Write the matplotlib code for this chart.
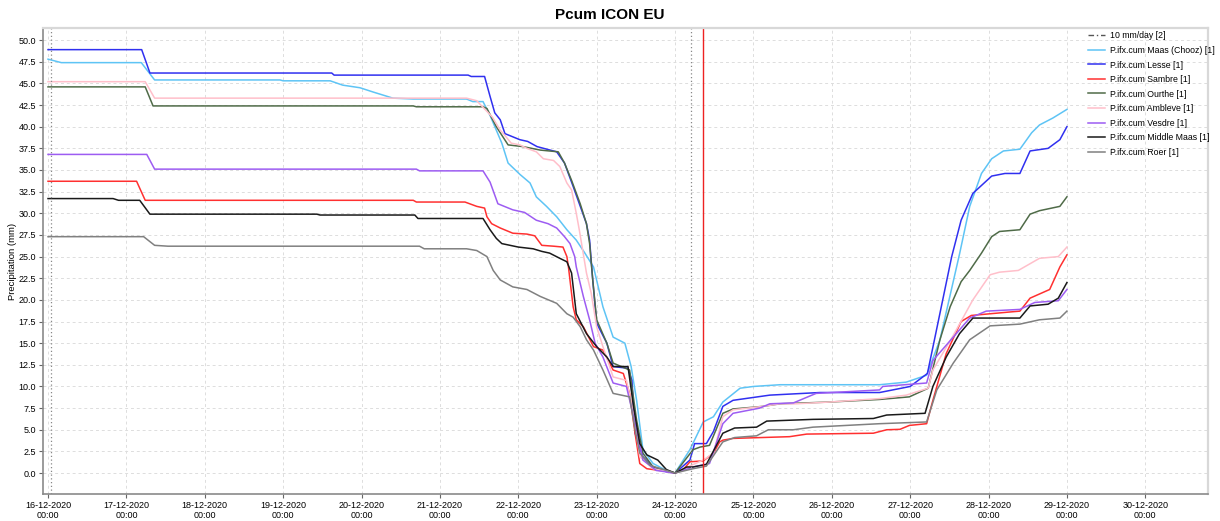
import numpy as np
import pandas as pd
import matplotlib
matplotlib.use("Agg")
import matplotlib.pyplot as plt
import matplotlib.dates as mdates

plt.rcParams['font.family'] = ['Liberation Sans', 'DejaVu Sans']

BASE = pd.Timestamp("2020-12-16 00:00")

# time in days since 16-12-2020 00:00, value in mm
maas_t = [0, 0.17, 1.19, 1.36, 2.96, 3.0, 3.6, 3.76, 3.98, 4.15, 4.40, 4.66, 5.34, 5.42, 5.55, 5.64, 5.79, 5.87,
          6.02, 6.15, 6.23, 6.36, 6.49, 6.62, 6.74, 6.85, 6.96, 7.08, 7.21, 7.36, 7.44, 7.51, 7.59, 7.72, 7.89, 8.0,
          8.19, 8.36, 8.49, 8.61, 8.83, 9.0, 9.34, 10.61, 10.95, 11.21, 11.38, 11.63, 11.76, 11.91, 12.04, 12.19,
          12.40, 12.55, 12.65, 12.82, 13.0]
maas_v = [47.8, 47.4, 47.4, 45.4, 45.4, 45.3, 45.3, 44.8, 44.5, 44.0, 43.3, 43.2, 43.2, 42.9, 42.9, 41.3, 38.1, 35.8,
          34.5, 33.5, 31.9, 30.8, 29.6, 28.1, 26.9, 25.4, 23.8, 19.2, 15.7, 15.0, 12.3, 8.4, 2.7, 1.1, 0.3, 0.0,
          2.7, 5.9, 6.5, 8.2, 9.8, 10.0, 10.2, 10.2, 10.5, 11.3, 15.4, 25.3, 30.8, 34.6, 36.3, 37.2,
          37.4, 39.3, 40.2, 41.0, 42.0]

lesse_t = [0, 1.195, 1.25, 1.30, 3.62, 3.65, 5.36, 5.40, 5.57, 5.64, 5.70, 5.77, 5.83, 6.02, 6.12, 6.24, 6.49, 6.59,
           6.70, 6.87, 6.91, 6.95, 7.0, 7.13, 7.21, 7.40, 7.45, 7.49, 7.59, 7.72, 7.89, 8.0, 8.19, 8.25, 8.40, 8.49,
           8.61, 8.74, 9.21, 9.85, 10.61, 11.0, 11.22, 11.31, 11.53, 11.65, 11.80, 12.04, 12.21, 12.40, 12.53,
           12.76, 12.91, 13.0]
lesse_v = [48.9, 48.9, 47.5, 46.2, 46.2, 45.96, 45.96, 45.8, 45.8, 43.5, 41.6, 40.8, 39.2, 38.5, 38.3, 37.7, 37.1, 35.8,
           33.1, 28.8, 26.9, 22.3, 17.3, 15.0, 12.3, 12.1, 10.7, 4.6, 1.9, 0.7, 0.15, 0.0, 1.5, 3.4, 3.4, 4.8,
           7.7, 8.4, 9.0, 9.3, 9.3, 10.0, 11.5, 15.4, 25.0, 29.2, 32.3, 34.3, 34.6, 34.6, 37.2,
           37.5, 38.5, 40.0]

sambre_t = [0, 1.13, 1.24, 4.66, 4.70, 5.32, 5.47, 5.57, 5.60, 5.66, 5.77, 5.93, 6.11, 6.21, 6.30, 6.45, 6.57, 6.62,
            6.64, 6.70, 6.74, 6.83, 6.96, 7.08, 7.21, 7.34, 7.42, 7.49, 7.55, 7.64, 7.89, 8.0, 8.10, 8.19, 8.36,
            8.49, 8.57, 8.61, 8.74, 9.46, 9.68, 10.53, 10.70, 10.87, 10.99, 11.21, 11.29, 11.46, 11.65, 11.78,
            12.27, 12.40, 12.53, 12.78, 12.91, 13.0]
sambre_v = [33.7, 33.7, 31.5, 31.5, 31.3, 31.3, 30.8, 30.6, 29.6, 28.8, 28.3, 27.7, 27.6, 27.4, 26.3, 26.2, 26.1, 25.0,
            23.8, 19.2, 17.7, 16.9, 14.6, 14.2, 11.9, 11.5, 9.2, 4.6, 1.1, 0.5, 0.2, 0.0, 0.35, 1.3, 1.4,
            2.3, 3.6, 3.8, 4.0, 4.2, 4.5, 4.6, 5.0, 5.05, 5.5, 5.7, 8.4, 13.8, 17.5, 18.2,
            18.6, 18.7, 20.2, 21.2, 23.8, 25.2]

ourthe_t = [0, 1.24, 1.34, 4.66, 4.70, 5.55, 5.60, 5.72, 5.87, 6.06, 6.28, 6.51, 6.59, 6.68, 6.79, 6.87, 6.91, 6.95,
            7.0, 7.13, 7.21, 7.42, 7.51, 7.59, 7.72, 8.0, 8.23, 8.32, 8.44, 8.61, 8.74, 9.12, 9.34, 9.97, 10.61,
            10.99, 11.23, 11.38, 11.51, 11.65, 11.76, 11.91, 12.04, 12.14, 12.40, 12.53, 12.65, 12.91, 13.0]
ourthe_v = [44.6, 44.6, 42.4, 42.4, 42.3, 42.3, 42.1, 40.0, 37.9, 37.7, 37.3, 37.1, 35.8, 33.8, 31.1, 28.8, 26.5, 22.3,
            17.7, 15.0, 12.7, 11.9, 6.1, 2.3, 0.7, 0.0, 2.7, 3.0, 3.2, 6.9, 7.4, 7.7, 8.0, 8.2, 8.5,
            8.8, 9.8, 15.4, 19.2, 22.1, 23.4, 25.4, 27.3, 27.9, 28.1, 29.9, 30.3, 30.8, 31.9]

ambleve_t = [0, 1.24, 1.36, 5.34, 5.47, 5.67, 5.77, 5.81, 5.91, 6.02, 6.11, 6.23, 6.32, 6.45, 6.53, 6.62, 6.68, 6.74,
             6.78, 6.87, 6.93, 7.0, 7.08, 7.21, 7.38, 7.47, 7.55, 7.72, 8.0, 8.21, 8.36, 8.49, 8.61, 8.74, 9.12,
             9.34, 9.55, 9.97, 10.61, 10.95, 11.23, 11.29, 11.55, 11.80, 12.02, 12.14, 12.38, 12.65, 12.89, 13.0]
ambleve_v = [45.2, 45.2, 43.3, 43.3, 43.0, 41.1, 39.6, 39.2, 38.1, 37.9, 37.5, 37.1, 36.3, 36.1, 35.4, 33.5, 32.7, 30.0,
             28.0, 23.1, 20.8, 16.9, 14.6, 11.1, 10.7, 6.9, 1.9, 0.5, 0.0, 0.9, 1.5, 2.3, 6.5, 7.3, 7.7,
             8.0, 8.0, 8.2, 8.6, 9.0, 9.8, 11.9, 15.9, 20.0, 22.9, 23.2, 23.4, 24.8, 25.0, 26.1]

vesdre_t = [0, 1.26, 1.36, 4.70, 4.74, 5.55, 5.64, 5.74, 5.93, 6.08, 6.23, 6.38, 6.49, 6.59, 6.66, 6.72, 6.74, 6.83,
            6.91, 6.98, 7.08, 7.21, 7.38, 7.51, 7.59, 7.76, 8.0, 8.23, 8.44, 8.61, 8.74, 9.08, 9.21, 9.51, 9.80,
            10.61, 10.65, 11.21, 11.29, 11.55, 11.76, 11.97, 12.40, 12.59, 12.89, 13.0]
vesdre_v = [36.8, 36.8, 35.1, 35.1, 34.9, 34.9, 33.6, 31.1, 30.4, 30.1, 29.2, 28.8, 28.3, 27.3, 26.5, 25.0, 23.8, 20.4,
            17.7, 15.0, 13.4, 10.4, 10.0, 5.0, 1.5, 0.3, 0.0, 0.7, 1.1, 5.7, 6.9, 7.5, 8.0, 8.1, 9.2,
            9.6, 10.0, 10.4, 13.0, 15.7, 17.9, 18.7, 18.9, 19.7, 19.9, 21.2]

middle_t = [0, 0.83, 0.90, 1.17, 1.30, 3.43, 3.47, 4.68, 4.72, 5.55, 5.64, 5.72, 5.79, 6.0, 6.19, 6.30, 6.40, 6.53,
            6.62, 6.68, 6.74, 6.87, 7.0, 7.13, 7.21, 7.40, 7.47, 7.55, 7.64, 7.78, 7.89, 8.0, 8.15, 8.23, 8.40,
            8.61, 8.76, 9.04, 9.17, 9.76, 10.53, 10.70, 11.19, 11.29, 11.46, 11.63, 11.80, 12.40, 12.53, 12.76,
            12.89, 13.0]
middle_v = [31.7, 31.7, 31.5, 31.5, 29.9, 29.9, 29.8, 29.8, 29.4, 29.4, 28.1, 27.1, 26.5, 26.1, 25.9, 25.6, 25.4, 24.8,
            24.4, 23.1, 18.4, 16.1, 14.6, 13.4, 12.3, 12.3, 7.7, 3.4, 2.1, 1.5, 0.4, 0.0, 0.7, 0.7, 1.0,
            4.6, 5.2, 5.3, 6.0, 6.2, 6.3, 6.7, 6.9, 10.0, 13.4, 16.1, 17.9, 17.9, 19.3, 19.5,
            20.2, 22.0]

roer_t = [0, 1.22, 1.36, 1.53, 4.74, 4.80, 5.34, 5.47, 5.60, 5.68, 5.77, 5.93, 6.11, 6.28, 6.49, 6.62, 6.70, 6.79,
          6.87, 6.96, 7.08, 7.21, 7.42, 7.49, 7.55, 7.68, 7.89, 8.0, 8.23, 8.40, 8.61, 8.76, 9.04, 9.19, 9.51,
          9.76, 10.61, 11.21, 11.34, 11.55, 11.76, 12.02, 12.40, 12.65, 12.91, 13.0]
roer_v = [27.3, 27.3, 26.3, 26.2, 26.2, 25.9, 25.9, 25.7, 25.0, 23.4, 22.3, 21.5, 21.2, 20.4, 19.6, 18.4, 18.0, 16.9,
          15.4, 14.2, 11.9, 9.2, 8.8, 5.0, 2.3, 0.9, 0.3, 0.0, 0.5, 0.8, 3.6, 4.1, 4.3, 5.0, 5.0,
          5.3, 5.7, 5.9, 9.6, 12.7, 15.4, 17.0, 17.2, 17.7, 17.9, 18.7]

# 10 mm/day [2] threshold series has no visible data in the plotted range
thresh_t = []
thresh_v = []

series = [
    ("P.ifx.cum Maas (Chooz) [1]", maas_t, maas_v, "#5ec4f5"),
    ("P.ifx.cum Lesse [1]", lesse_t, lesse_v, "#3030f0"),
    ("P.ifx.cum Sambre [1]", sambre_t, sambre_v, "#ff3030"),
    ("P.ifx.cum Ourthe [1]", ourthe_t, ourthe_v, "#4f6b48"),
    ("P.ifx.cum Ambleve [1]", ambleve_t, ambleve_v, "#ffbfca"),
    ("P.ifx.cum Vesdre [1]", vesdre_t, vesdre_v, "#9d5cf2"),
    ("P.ifx.cum Middle Maas [1]", middle_t, middle_v, "#1a1a1a"),
    ("P.ifx.cum Roer [1]", roer_t, roer_v, "#808080"),
]

vline_dotted = [0.04, 8.2]
vline_red = 8.36


def to_dt(days):
    return BASE + pd.to_timedelta(np.asarray(days, dtype=float), unit="D")


fig = plt.figure(figsize=(12.2, 5.21), dpi=100)
ax = fig.add_axes([43 / 1220, 27 / 521, (1208 - 43) / 1220, (494 - 28) / 521])

ax.plot(to_dt(thresh_t), thresh_v, color="#555555", lw=1.0, ls=(0, (4, 2, 1, 2)), label="10 mm/day [2]")
for name, t, v, c in series:
    ax.plot(to_dt(t), v, color=c, lw=1.1, label=name)

for d in vline_dotted:
    ax.axvline(to_dt([d])[0], color="#888888", lw=0.9, ls=(0, (1, 2)))
ax.axvline(to_dt([vline_red])[0], color="#ee2222", lw=1.0)

ax.set_xlim(to_dt([-0.064])[0], to_dt([14.8])[0])
ax.set_ylim(-2.42, 51.4)
ax.set_yticks(np.arange(0, 50.01, 2.5))
ax.yaxis.set_major_formatter(matplotlib.ticker.FormatStrFormatter("%.1f"))
ax.xaxis.set_major_locator(mdates.DayLocator())
ax.xaxis.set_major_formatter(mdates.DateFormatter("%d-%m-%Y\n%H:%M"))
ax.tick_params(axis="both", labelsize=6.5, length=3, width=0.8, color="#666666", pad=2)

ax.grid(True, color="#dddddd", lw=0.7, ls=(0, (3, 3)))
ax.set_axisbelow(True)
for s in ["left", "bottom"]:
    ax.spines[s].set_color("#8a8a8a")
    ax.spines[s].set_linewidth(1.2)
for s in ["top", "right"]:
    ax.spines[s].set_color("#d8d8d8")
    ax.spines[s].set_linewidth(1.6)

ax.set_ylabel("Precipitation (mm)", fontsize=6.8)
ax.yaxis.set_label_coords(-0.0225, 0.5)
fig.text(0.5, 1 - 15 / 521, "Pcum ICON EU", fontsize=11, fontweight="bold", ha="center", va="center")

ax.legend(loc="upper left", bbox_to_anchor=(1084 / 1220, 1 - 28 / 521), bbox_transform=fig.transFigure,
          frameon=False, fontsize=6.3, handlelength=2.0, labelspacing=0.63, borderaxespad=0, handletextpad=0.6)

fig.savefig("out.png", dpi=100)
